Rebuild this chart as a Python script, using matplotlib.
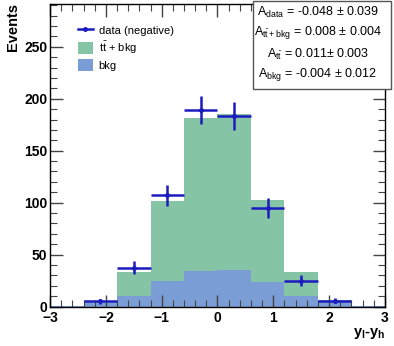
import matplotlib
matplotlib.use("Agg")
import matplotlib.pyplot as plt
from matplotlib.ticker import MultipleLocator
from matplotlib.lines import Line2D
from matplotlib.patches import Patch
import numpy as np

plt.rcParams['font.family'] = ['Liberation Sans', 'DejaVu Sans']
plt.rcParams['mathtext.fontset'] = 'custom'
plt.rcParams['mathtext.rm'] = 'Liberation Sans'
plt.rcParams['mathtext.it'] = 'Liberation Sans'
plt.rcParams['mathtext.bf'] = 'Liberation Sans:bold'

# Data
bin_edges = [-3.0, -2.4, -1.8, -1.2, -0.6, 0.0, 0.6, 1.2, 1.8, 2.4, 3.0]
ttbkg = [0.8, 5.5, 33, 102, 181.5, 185, 102.5, 33, 6, 0.8]
bkg = [0.8, 3.5, 10.3, 24.5, 34.5, 35.3, 23.5, 10.3, 4, 0.8]
data_x = [-2.1, -1.5, -0.9, -0.3, 0.3, 0.9, 1.5, 2.1]
data_y = [5, 37.5, 107, 189, 183.5, 95, 25, 5.5]
data_err = [2.2, 6.1, 10.3, 13.8, 13.6, 9.8, 5.0, 2.3]
stats_lines = [
    r'$\mathregular{A_{data}}$ = -0.048 $\pm$ 0.039',
    r'$\mathregular{A_{t\bar{t}+bkg}}$ = 0.008 $\pm$ 0.004',
    r'$\mathregular{A_{t\bar{t}}}$ = 0.011$\pm$ 0.003',
    r'$\mathregular{A_{bkg}}$ = -0.004 $\pm$ 0.012',
]

green = '#85C4A5'
blue = '#7B9DD6'
dcol = '#1C1CBE'

fig = plt.figure(figsize=(3.94, 3.46), dpi=100)
ax = fig.add_axes([0.127, 0.114, 0.850, 0.874])

ax.stairs(ttbkg, bin_edges, fill=True, color=green, lw=0)
ax.stairs(bkg, bin_edges, fill=True, color=blue, lw=0)
ax.errorbar(data_x, data_y, xerr=0.3, yerr=data_err, fmt='o', ms=2.5,
            color=dcol, ecolor=dcol, elinewidth=1.8, capsize=0, zorder=5)

ax.set_xlim(-3, 3)
ax.set_ylim(0, 291)
ax.xaxis.set_major_locator(MultipleLocator(1))
ax.xaxis.set_minor_locator(MultipleLocator(0.2))
ax.yaxis.set_major_locator(MultipleLocator(50))
ax.yaxis.set_minor_locator(MultipleLocator(10))
ax.tick_params(which='both', direction='in', top=True, right=True, color='#444444')
ax.tick_params(which='major', length=9, width=1.0, labelsize=10, pad=2)
ax.tick_params(axis='x', which='major', pad=3.5)
ax.tick_params(which='minor', length=5, width=0.8)
for lab in ax.get_xticklabels() + ax.get_yticklabels():
    lab.set_fontweight('bold')
for sp in ax.spines.values():
    sp.set_linewidth(1.0)

fig.text(0.033, 0.99, 'Events', rotation=90, ha='center', va='top',
         fontsize=10.5, fontweight='bold')
fig.text(0.978, 0.014, r'$\mathbf{y_{l}}$-$\mathbf{y_{h}}$', ha='right', va='bottom',
         fontsize=10.5, fontweight='bold')

handles = [Line2D([0], [0], color=dcol, lw=1.8, marker='o', ms=2.5),
           Patch(facecolor=green, edgecolor='none'),
           Patch(facecolor=blue, edgecolor='none')]
labels = ['data (negative)', r'$\mathregular{t\bar{t}}$ + bkg', 'bkg']
ax.legend(handles, labels, loc='upper left', bbox_to_anchor=(0.084, 0.933),
          frameon=False, fontsize=8, handlelength=1.3, handleheight=1.3,
          labelspacing=0.3, handletextpad=0.55, borderpad=0, borderaxespad=0)

# stats box
bx0, by0, bx1, by1 = 253 / 394, 1 - 89 / 346, 391 / 394, 1 - 1 / 346
fig.patches.append(plt.Rectangle((bx0, by0), bx1 - bx0, by1 - by0,
                                 transform=fig.transFigure, fill=True,
                                 facecolor='white', edgecolor='#555555', lw=1.0, zorder=10))
ys = [12, 33, 54, 75]
for s, y in zip(stats_lines, ys):
    fig.text(318 / 394, 1 - y / 346, s, ha='center', va='center',
             fontsize=9, zorder=11)

fig.savefig('out.png', dpi=100)
